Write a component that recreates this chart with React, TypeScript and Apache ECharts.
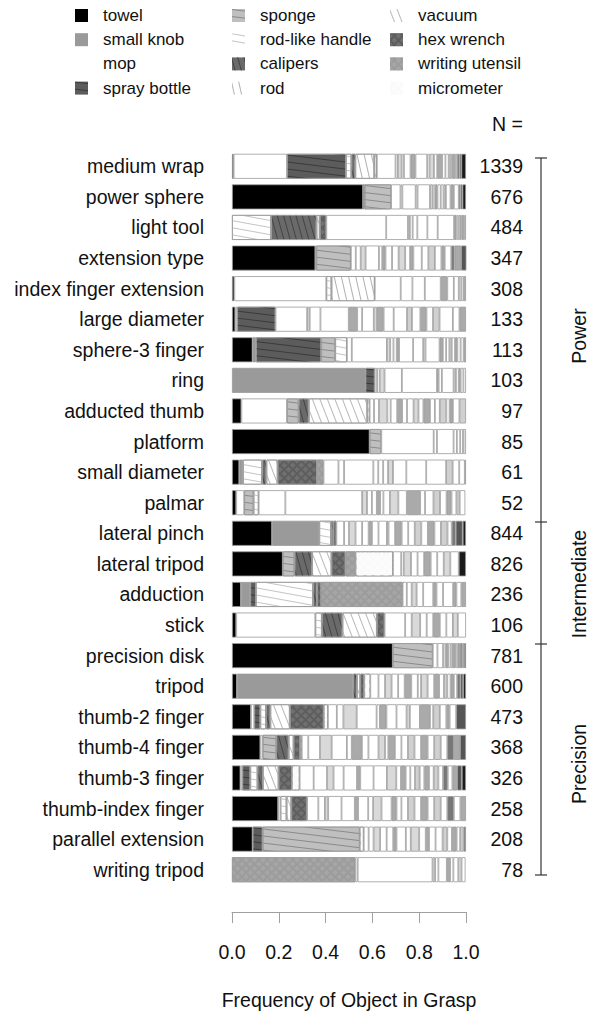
import React, { useEffect, useRef } from "react";
import * as echarts from "echarts";

const categories = [
  "medium wrap", "power sphere", "light tool", "extension type", "index finger extension",
  "large diameter", "sphere-3 finger", "ring", "adducted thumb", "platform", "small diameter",
  "palmar", "lateral pinch", "lateral tripod", "adduction", "stick", "precision disk", "tripod",
  "thumb-2 finger", "thumb-4 finger", "thumb-3 finger", "thumb-index finger",
  "parallel extension", "writing tripod",
];
const sampleSizes = [
  "1339", "676", "484", "347", "308", "133", "113", "103", "97", "85", "61", "52",
  "844", "826", "236", "106", "781", "600", "473", "368", "326", "258", "208", "78",
];

// shares of the 12 named objects (per grasp, same order as categories)
const towel = [0.007, 0.56, 0, 0.356, 0.01, 0.014, 0.088, 0, 0.04, 0.588, 0.031, 0.018, 0.171, 0.217, 0.038, 0.018, 0.687, 0.021, 0.081, 0.121, 0.036, 0.197, 0.088, 0];
const smallKnob = [0, 0, 0, 0.004, 0, 0, 0.014, 0.57, 0, 0, 0.016, 0, 0.202, 0, 0.04, 0, 0, 0.496, 0, 0, 0, 0, 0, 0];
const mop = [0.228, 0, 0, 0, 0.393, 0.008, 0, 0, 0.195, 0, 0, 0.034, 0, 0, 0, 0.338, 0, 0, 0.014, 0.01, 0.008, 0.01, 0, 0];
const sprayBottle = [0.252, 0.007, 0, 0, 0, 0.164, 0.279, 0.04, 0, 0, 0, 0, 0, 0, 0.024, 0, 0, 0, 0.026, 0, 0.034, 0, 0.043, 0];
const sponge = [0, 0.113, 0, 0.148, 0, 0, 0.06, 0, 0.05, 0.05, 0, 0.04, 0, 0.05, 0, 0, 0.171, 0, 0, 0.058, 0, 0, 0.415, 0];
const rodLikeHandle = [0.023, 0, 0.167, 0, 0.022, 0, 0.05, 0, 0, 0, 0.081, 0.022, 0.05, 0, 0.244, 0.028, 0, 0, 0.024, 0, 0.031, 0.026, 0, 0];
const calipers = [0.017, 0, 0.194, 0, 0, 0, 0, 0, 0.043, 0, 0.019, 0, 0.01, 0.075, 0.017, 0.088, 0, 0.017, 0.019, 0.053, 0.023, 0, 0, 0];
const rod = [0.081, 0, 0, 0, 0.185, 0, 0, 0, 0, 0, 0, 0, 0, 0, 0, 0, 0, 0, 0, 0, 0, 0, 0, 0];
const vacuum = [0.011, 0, 0.014, 0, 0, 0, 0, 0, 0.25, 0, 0.048, 0, 0, 0.083, 0, 0.147, 0, 0.014, 0.083, 0.021, 0.067, 0.02, 0, 0];
const hexWrench = [0, 0, 0.028, 0, 0, 0, 0, 0, 0, 0, 0.168, 0, 0.013, 0.06, 0.018, 0.033, 0, 0.017, 0.145, 0.028, 0.057, 0.068, 0, 0];
const writingUtensil = [0, 0, 0, 0, 0, 0, 0, 0, 0, 0, 0.028, 0, 0, 0.043, 0.348, 0, 0, 0, 0, 0, 0, 0, 0, 0.527];
const micrometer = [0, 0, 0, 0, 0, 0, 0, 0, 0.01, 0, 0, 0, 0, 0.16, 0, 0, 0, 0.026, 0.018, 0.007, 0.033, 0, 0.017, 0];

// shares of the remaining (unnamed) objects, one row per grasp, 24 object slots
const otherShares: number[][] = [
  [0.08, 0.01, 0.016, 0.01, 0.028, 0.021, 0.05, 0.01, 0.019, 0.014, 0.021, 0.014, 0.014, 0.011, 0.007, 0.01, 0.008, 0, 0, 0.01, 0, 0, 0.008, 0.02],
  [0.04, 0.008, 0, 0.057, 0.008, 0, 0.053, 0, 0.012, 0.01, 0.01, 0.014, 0.012, 0.01, 0.02, 0.014, 0.021, 0, 0, 0.008, 0, 0, 0.008, 0.015],
  [0.256, 0.093, 0.008, 0.012, 0.02, 0, 0.043, 0.044, 0, 0.07, 0.01, 0.008, 0.008, 0.006, 0, 0.007, 0, 0.006, 0.006, 0, 0, 0, 0, 0],
  [0.021, 0.021, 0.021, 0.057, 0.014, 0.014, 0.028, 0.028, 0.028, 0.021, 0.014, 0.036, 0.028, 0.028, 0.028, 0.014, 0.028, 0, 0, 0.014, 0, 0.028, 0.024, 0],
  [0.111, 0.05, 0, 0.053, 0.068, 0.028, 0.028, 0.021, 0.012, 0.01, 0.009, 0, 0, 0, 0, 0, 0, 0, 0, 0, 0, 0, 0, 0],
  [0.135, 0, 0.011, 0.046, 0.121, 0.036, 0.021, 0.05, 0.014, 0, 0.028, 0.043, 0.057, 0.021, 0.036, 0.026, 0.028, 0.028, 0.057, 0, 0.028, 0.028, 0, 0],
  [0.021, 0.15, 0.014, 0.014, 0.014, 0.01, 0.06, 0.043, 0.01, 0.06, 0.014, 0.014, 0.014, 0.01, 0.014, 0.01, 0.014, 0, 0, 0, 0.013, 0.01, 0, 0],
  [0.01, 0.011, 0.021, 0.074, 0.15, 0.007, 0.014, 0.05, 0.01, 0.012, 0.008, 0.012, 0.011, 0, 0, 0, 0, 0, 0, 0, 0, 0, 0, 0],
  [0.019, 0.021, 0.036, 0.014, 0.028, 0.021, 0.021, 0.028, 0.021, 0.021, 0.028, 0.021, 0.021, 0.028, 0.014, 0.014, 0.028, 0.028, 0, 0, 0, 0, 0, 0],
  [0.224, 0.014, 0, 0.071, 0.014, 0, 0.014, 0.012, 0.013, 0, 0, 0, 0, 0, 0, 0, 0, 0, 0, 0, 0, 0, 0, 0],
  [0.064, 0.024, 0, 0.125, 0.021, 0, 0.021, 0.021, 0.021, 0.057, 0, 0.085, 0.085, 0.028, 0.028, 0, 0.024, 0.005, 0, 0, 0, 0, 0, 0],
  [0.114, 0.328, 0.021, 0.021, 0.021, 0.014, 0.014, 0.028, 0.036, 0.036, 0.057, 0.021, 0.036, 0.028, 0.028, 0.021, 0.021, 0.014, 0.024, 0, 0, 0, 0, 0],
  [0.033, 0.021, 0.028, 0.028, 0.028, 0.014, 0.028, 0.036, 0.007, 0.028, 0.028, 0.028, 0.028, 0.028, 0.028, 0.028, 0.028, 0.028, 0.018, 0.017, 0, 0, 0.03, 0.014],
  [0.035, 0.011, 0.031, 0.028, 0.028, 0.028, 0.028, 0.028, 0.028, 0.036, 0, 0, 0, 0, 0, 0, 0, 0, 0, 0, 0, 0, 0, 0.031],
  [0.018, 0.021, 0.021, 0.028, 0.043, 0.014, 0.028, 0.043, 0, 0, 0.014, 0.021, 0, 0, 0, 0.02, 0, 0, 0, 0, 0, 0, 0, 0],
  [0.088, 0.028, 0.036, 0.028, 0.028, 0.028, 0.028, 0.028, 0.021, 0.035, 0, 0, 0, 0, 0, 0, 0, 0, 0, 0, 0, 0, 0, 0],
  [0.02, 0.024, 0, 0.01, 0, 0.012, 0.01, 0, 0.01, 0, 0.012, 0.008, 0, 0, 0, 0.01, 0, 0, 0, 0.01, 0, 0.008, 0, 0.008],
  [0.035, 0.028, 0.028, 0.028, 0.028, 0.028, 0.028, 0.014, 0.028, 0.028, 0.021, 0.021, 0, 0.014, 0.014, 0.014, 0.014, 0, 0, 0.014, 0, 0, 0.012, 0.012],
  [0.038, 0.028, 0.057, 0.085, 0.014, 0.028, 0.043, 0.043, 0.014, 0.043, 0.043, 0.014, 0, 0.028, 0.028, 0.014, 0.028, 0, 0, 0, 0, 0, 0.042, 0],
  [0.028, 0.05, 0.05, 0.065, 0.021, 0.043, 0.028, 0.043, 0.028, 0.014, 0.028, 0.028, 0.028, 0.028, 0.028, 0.028, 0.028, 0.028, 0.028, 0.028, 0, 0.026, 0.026, 0],
  [0.06, 0.057, 0.028, 0.043, 0.057, 0.014, 0.057, 0.057, 0.04, 0.02, 0.02, 0.02, 0.02, 0.02, 0.02, 0.02, 0.02, 0.02, 0.02, 0.02, 0.02, 0.02, 0.02, 0.018],
  [0.048, 0.028, 0.014, 0.057, 0.057, 0.014, 0.043, 0.021, 0.036, 0.043, 0.021, 0.021, 0.028, 0.028, 0.028, 0.028, 0.028, 0.028, 0.028, 0.028, 0.028, 0.024, 0, 0],
  [0.021, 0.021, 0.028, 0.028, 0.028, 0.014, 0.04, 0.021, 0.036, 0.028, 0.014, 0.028, 0.03, 0.02, 0.02, 0.02, 0.015, 0.015, 0, 0.01, 0, 0, 0, 0],
  [0.01, 0.32, 0.011, 0.014, 0.036, 0.014, 0.014, 0.021, 0.014, 0.017, 0, 0, 0, 0, 0, 0, 0, 0, 0, 0, 0, 0, 0, 0],
];

const otherFills = [
  "#ffffff", "#ffffff", "#d9d9d9", "#ffffff", "#ffffff", "#aaaaaa", "#ffffff", "#ffffff",
  "#d9d9d9", "#ffffff", "#aaaaaa", "#ffffff", "#ffffff", "#d0d0d0", "#ffffff", "#aaaaaa",
  "#ffffff", "#d0d0d0", "#ffffff", "#777777", "#ffffff", "#aaaaaa", "#555555", "#1a1a1a",
];

const FONT = "'Liberation Sans', Arial, Helvetica, sans-serif";

const lines = (color: string, gap: number, rotation: number, w = 1) => ({
  symbol: "rect",
  symbolSize: 1,
  color,
  dashArrayX: [1, 0],
  dashArrayY: [w, gap],
  rotation,
});
const cross = (fg: string, bg: string) => ({
  symbol: "rect",
  symbolSize: 1,
  color: fg,
  backgroundColor: bg,
  dashArrayX: [4, 1.6],
  dashArrayY: [4, 1.6],
  rotation: Math.PI / 4,
});

export default function App() {
  const ref = useRef<HTMLDivElement>(null);

  useEffect(() => {
    const chart = echarts.init(ref.current!, null, { renderer: "svg" });

    const named: { name: string; data: number[]; color: string; decal?: any }[] = [
      { name: "towel", data: towel, color: "#000000" },
      { name: "small knob", data: smallKnob, color: "#9a9a9a" },
      { name: "mop", data: mop, color: "#ffffff" },
      { name: "spray bottle", data: sprayBottle, color: "#5c5c5c", decal: lines("#3a3a3a", 6, 0.12) },
      { name: "sponge", data: sponge, color: "#bfbfbf", decal: lines("#8a8a8a", 6, 0.12) },
      { name: "rod-like handle", data: rodLikeHandle, color: "#ffffff", decal: lines("#c4c4c4", 6, 0.18) },
      { name: "calipers", data: calipers, color: "#6a6a6a", decal: lines("#444444", 5, 1.3) },
      { name: "rod", data: rod, color: "#ffffff", decal: lines("#b0b0b0", 6, 1.35) },
      { name: "vacuum", data: vacuum, color: "#ffffff", decal: lines("#b8b8b8", 6, 1.2) },
      { name: "hex wrench", data: hexWrench, color: "#5e5e5e", decal: cross("#707070", "#383838") },
      { name: "writing utensil", data: writingUtensil, color: "#9c9c9c", decal: cross("#a6a6a6", "#686868") },
      { name: "micrometer", data: micrometer, color: "#fafafa", decal: cross("#fcfcfc", "#a4a4a4") },
    ];

    const nz = (v: number) => (v > 0 ? v : "-");
    const series: any[] = [];
    named.forEach((s) => {
      series.push({
        type: "bar",
        name: s.name,
        stack: "total",
        barWidth: 25,
        silent: true,
        data: s.data.map(nz),
        itemStyle: {
          color: s.color,
          borderColor: "#9a9a9a",
          borderWidth: 0.8,
          ...(s.decal ? { decal: s.decal } : {}),
        },
      });
    });
    for (let k = 0; k < otherFills.length; k++) {
      series.push({
        type: "bar",
        name: "other " + (k + 1),
        stack: "total",
        barWidth: 25,
        silent: true,
        data: otherShares.map((row) => nz(row[k])),
        itemStyle: { color: otherFills[k], borderColor: "#9a9a9a", borderWidth: 0.8 },
      });
    }

    const legendBase = {
      orient: "vertical",
      top: 2,
      itemWidth: 13,
      itemHeight: 13,
      itemGap: 7.2,
      selectedMode: false,
      icon: "rect",
      itemStyle: { borderWidth: 0 },
      textStyle: { fontSize: 17, fontFamily: FONT, color: "#111", padding: [0, 0, 0, 10], lineHeight: 17 },
    };

    const textStyle = { fontFamily: FONT, fontSize: 19.5, fill: "#111" };

    chart.setOption({
      animation: false,
      backgroundColor: "#ffffff",
      textStyle: { fontFamily: FONT },
      grid: { left: 232, width: 234, top: 151, height: 734, outerBoundsMode: "none" },
      legend: [
        { ...legendBase, left: 70, data: named.slice(0, 4).map((s) => s.name) },
        { ...legendBase, left: 227, data: named.slice(4, 8).map((s) => s.name) },
        { ...legendBase, left: 385, data: named.slice(8, 12).map((s) => s.name) },
      ],
      xAxis: {
        type: "value",
        min: 0,
        max: 1,
        interval: 0.2,
        position: "bottom",
        offset: 27,
        axisLine: { show: true, lineStyle: { color: "#a0a0a0", width: 1 } },
        axisTick: { show: true, length: 11, lineStyle: { color: "#a0a0a0" } },
        splitLine: { show: false },
        axisLabel: {
          fontSize: 19.5,
          fontFamily: FONT,
          color: "#111",
          margin: 30,
          formatter: (v: number) => v.toFixed(1),
        },
        name: "Frequency of Object in Grasp",
        nameLocation: "middle",
        nameGap: 78,
        nameTextStyle: { fontSize: 19.5, fontFamily: FONT, color: "#111" },
      },
      yAxis: [
        {
          type: "category",
          data: categories,
          inverse: true,
          axisLine: { show: false },
          axisTick: { show: false },
          axisLabel: { fontSize: 19.5, fontFamily: FONT, color: "#111", margin: 28 },
        },
        {
          type: "category",
          data: sampleSizes,
          inverse: true,
          position: "right",
          axisLine: { show: false },
          axisTick: { show: false },
          axisLabel: { fontSize: 19.5, fontFamily: FONT, color: "#111", margin: 57, align: "right" },
        },
      ],
      graphic: [
        {
          type: "text",
          x: 523,
          y: 124,
          style: { ...textStyle, text: "N =", align: "right", textAlign: "right", verticalAlign: "middle", textVerticalAlign: "middle" },
        },
        { type: "line", shape: { x1: 541, y1: 158, x2: 541, y2: 875 }, style: { stroke: "#333", lineWidth: 1.2 } },
        { type: "line", shape: { x1: 535, y1: 158, x2: 547, y2: 158 }, style: { stroke: "#333", lineWidth: 1.2 } },
        { type: "line", shape: { x1: 535, y1: 522, x2: 547, y2: 522 }, style: { stroke: "#333", lineWidth: 1.2 } },
        { type: "line", shape: { x1: 535, y1: 644, x2: 547, y2: 644 }, style: { stroke: "#333", lineWidth: 1.2 } },
        { type: "line", shape: { x1: 535, y1: 875, x2: 547, y2: 875 }, style: { stroke: "#333", lineWidth: 1.2 } },
        {
          type: "text",
          x: 579,
          y: 336,
          rotation: Math.PI / 2,
          style: { ...textStyle, text: "Power", align: "center", textAlign: "center", verticalAlign: "middle", textVerticalAlign: "middle" },
        },
        {
          type: "text",
          x: 579,
          y: 584,
          rotation: Math.PI / 2,
          style: { ...textStyle, text: "Intermediate", align: "center", textAlign: "center", verticalAlign: "middle", textVerticalAlign: "middle" },
        },
        {
          type: "text",
          x: 579,
          y: 764,
          rotation: Math.PI / 2,
          style: { ...textStyle, text: "Precision", align: "center", textAlign: "center", verticalAlign: "middle", textVerticalAlign: "middle" },
        },
      ],
      series,
    });

    return () => chart.dispose();
  }, []);

  return (
    <div
      ref={ref}
      style={{ position: "fixed", left: 0, top: 0, width: 605, height: 1012, background: "#fff" }}
    />
  );
}
